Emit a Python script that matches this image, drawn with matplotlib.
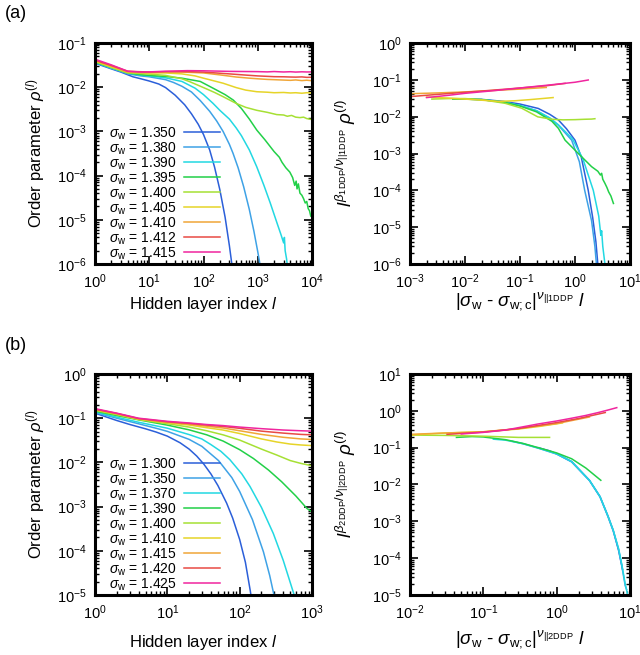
import numpy as np
import matplotlib
matplotlib.use('Agg')
import matplotlib.pyplot as plt
from matplotlib.ticker import LogLocator, FuncFormatter, NullFormatter

plt.rcParams['font.family'] = ['Liberation Sans', 'DejaVu Sans']
plt.rcParams['mathtext.fontset'] = 'custom'
plt.rcParams['mathtext.rm'] = 'Liberation Sans'
plt.rcParams['mathtext.it'] = 'Liberation Sans:italic'
plt.rcParams['mathtext.bf'] = 'Liberation Sans:bold'

colors = ['#2b5fd9', '#3ea2e6', '#22d8e2', '#22d048', '#a6e034',
          '#e6d428', '#f0a638', '#e84a44', '#f0259e']

# ---- (a) left: order parameter vs layer index
a_sigma = ['1.350', '1.380', '1.390', '1.395', '1.400', '1.405', '1.410', '1.412', '1.415']
a_l = [
    [1, 2, 3, 5, 7, 10, 15, 20, 30, 45, 60, 80, 100, 130, 160, 200, 250, 300, 350],
    [1, 2, 4, 7, 10, 20, 28, 40, 60, 87, 130, 175, 230, 300, 350, 435, 550, 700, 850, 1000, 1100],
    [1, 2, 4, 7, 10, 20, 40, 70, 100, 150, 200, 300, 400, 500, 700, 955, 1300, 1700, 2300, 2700,
     3000, 3100, 3200, 3400, 3600],
    [1, 2, 4, 7, 10, 20, 40, 87, 150, 250, 355, 500, 700, 960, 1350, 2000, 2500, 2800, 3300, 3900,
     4400, 4800, 5100, 5300, 5600, 6000, 6500, 7000, 7500, 8000, 8500, 9000, 9500, 10000],
    [1, 2, 4, 7, 10, 20, 40, 56, 100, 160, 230, 400, 600, 960, 1500, 2240, 3000, 3500, 4200, 5000,
     6000, 7000, 8000, 9000, 10000],
    [1, 2, 4, 10, 20, 40, 70, 100, 160, 230, 400, 600, 960, 1500, 2000, 3000, 4000, 5000, 6500,
     8000, 10000],
    [1, 2, 4, 10, 20, 40, 100, 200, 400, 700, 1000, 1500, 2000, 3000, 4000, 5000, 6500, 8000, 10000],
    [1, 2, 4, 10, 20, 50, 100, 300, 600, 1000, 1500, 2000, 3000, 4000, 5000, 6500, 8000, 10000],
    [1, 2, 4, 7, 10, 20, 50, 100, 300, 1000, 1500, 2000, 3000, 4000, 5000, 6500, 8000, 10000],
]
a_rho = [
    [0.035, 0.026, 0.022, 0.0172, 0.0155, 0.0138, 0.0118, 0.0098, 0.0066, 0.0040, 0.0025, 0.00145,
     0.00085, 0.00038, 0.000155, 4.8e-5, 1.15e-5, 2.6e-6, 6.3e-7],
    [0.036, 0.027, 0.020, 0.018, 0.0172, 0.0148, 0.0128, 0.0105, 0.0078, 0.0050, 0.00285, 0.00172,
     0.000995, 0.00051, 0.00032, 0.00015, 5.6e-5, 1.7e-5, 5.5e-6, 1.9e-6, 9.8e-7],
    [0.037, 0.027, 0.021, 0.0188, 0.018, 0.0163, 0.0135, 0.0095, 0.0068, 0.0043, 0.003, 0.0019,
     0.0012, 0.0008, 0.00038, 0.00016, 6e-5, 2.4e-5, 8e-6, 4.5e-6, 3e-6, 4e-6, 2e-6, 1.3e-6, 7e-7],
    [0.037, 0.028, 0.021, 0.0192, 0.0185, 0.0175, 0.016, 0.0135, 0.0095, 0.0068, 0.0051, 0.0033,
     0.0019, 0.00107, 0.00065, 0.00035, 0.00026, 0.0002, 0.00015, 0.00012, 9e-5, 6e-5, 7.5e-5,
     5e-5, 6.5e-5, 4e-5, 3.6e-5, 3e-5, 2.4e-5, 2.6e-5, 1.8e-5, 1.6e-5, 1.2e-5, 1.3e-5],
    [0.038, 0.028, 0.021, 0.0203, 0.0198, 0.0185, 0.0155, 0.0133, 0.0098, 0.0076, 0.0061, 0.0043,
     0.0035, 0.003, 0.0027, 0.0024, 0.00235, 0.0022, 0.0023, 0.0021, 0.00205, 0.0021, 0.00195,
     0.0019, 0.00185],
    [0.039, 0.029, 0.022, 0.021, 0.021, 0.020, 0.018, 0.016, 0.0138, 0.0123, 0.0098, 0.0086, 0.0079,
     0.0077, 0.0075, 0.0076, 0.0074, 0.0075, 0.0073, 0.0075, 0.0074],
    [0.040, 0.030, 0.022, 0.0215, 0.022, 0.022, 0.021, 0.019, 0.017, 0.016, 0.0155, 0.0150, 0.0148,
     0.0145, 0.0143, 0.0146, 0.0141, 0.0144, 0.0140],
    [0.041, 0.031, 0.023, 0.022, 0.0225, 0.0225, 0.022, 0.020, 0.0188, 0.018, 0.0176, 0.0173,
     0.0172, 0.0170, 0.0169, 0.0171, 0.0167, 0.0168],
    [0.043, 0.032, 0.023, 0.022, 0.0222, 0.023, 0.0237, 0.0235, 0.0228, 0.0225, 0.0222, 0.0226,
     0.0221, 0.0224, 0.022, 0.0223, 0.0221, 0.0222],
]

# ---- (a) right: scaling collapse
a_sx = [
    [0.007, 0.01, 0.02, 0.05, 0.1, 0.215, 0.35, 0.5, 0.7, 1.0, 1.3, 1.74, 2.1, 2.4, 2.6],
    [0.006, 0.01, 0.02, 0.05, 0.1, 0.2, 0.35, 0.5, 0.87, 1.2, 1.5, 2.0, 2.3, 2.45],
    [0.006, 0.01, 0.02, 0.05, 0.1, 0.2, 0.35, 0.5, 0.9, 1.4, 2.15, 2.7, 2.95, 3.05, 3.2, 3.5],
    [0.006, 0.01, 0.02, 0.05, 0.1, 0.2, 0.38, 0.5, 0.66, 1.15, 2.0, 2.6, 2.9, 3.05, 3.2, 3.5, 3.8,
     4.1, 4.5, 5.0],
    [0.0025, 0.005, 0.01, 0.02, 0.054, 0.107, 0.21, 0.38, 0.6, 1.0, 1.5, 2.0, 2.3],
    [0.002, 0.005, 0.01, 0.02, 0.04, 0.08, 0.15, 0.25, 0.4],
    [0.001, 0.003, 0.01, 0.03, 0.1, 0.3],
    [0.001, 0.003, 0.01, 0.03, 0.1, 0.3, 0.66],
    [0.002, 0.005, 0.01, 0.03, 0.1, 0.3, 1.0, 1.74],
]
a_sy = [
    [0.030, 0.030, 0.0295, 0.026, 0.022, 0.0167, 0.0115, 0.0081, 0.0047, 0.0023, 8e-4, 1e-4,
     1.8e-5, 4e-6, 1e-6],
    [0.030, 0.030, 0.029, 0.025, 0.020, 0.0145, 0.009, 0.0058, 0.0023, 6e-4, 1e-4, 1.5e-5, 3e-6,
     1e-6],
    [0.030, 0.030, 0.029, 0.025, 0.020, 0.0145, 0.0092, 0.006, 0.0025, 7e-4, 1e-4, 2e-5, 6e-6,
     8e-6, 3e-6, 1e-6],
    [0.030, 0.030, 0.029, 0.025, 0.0195, 0.0135, 0.0075, 0.0048, 0.0023, 1e-3, 4.4e-4, 3.3e-4,
     2.6e-4, 2.9e-4, 2e-4, 1.55e-4, 1.2e-4, 9e-5, 7e-5, 4.4e-5],
    [0.030, 0.031, 0.031, 0.029, 0.023, 0.017, 0.0099, 0.0085, 0.0082, 0.0083, 0.0085, 0.0086,
     0.0088],
    [0.034, 0.032, 0.030, 0.028, 0.026, 0.027, 0.029, 0.031, 0.033],
    [0.042, 0.044, 0.047, 0.051, 0.056, 0.062],
    [0.035, 0.040, 0.046, 0.052, 0.060, 0.069, 0.080],
    [0.033, 0.038, 0.043, 0.050, 0.060, 0.071, 0.086, 0.099],
]

# ---- (b) left
b_sigma = ['1.300', '1.350', '1.370', '1.390', '1.400', '1.410', '1.415', '1.420', '1.425']
b_l = [
    [1, 2, 3, 5, 7, 10, 15, 20, 25.5, 32, 40, 50, 66, 80, 100, 120, 140, 148],
    [1, 2, 4, 7, 10, 20, 30, 51, 78, 100, 150, 213, 260, 300, 310],
    [1, 2, 4, 10, 20, 30, 40, 55, 73, 107, 139, 200, 292, 400, 552, 600],
    [1, 2, 4, 10, 20, 35, 59, 100, 155, 250, 380, 600, 850, 1000],
    [1, 2, 4, 10, 20, 35, 59, 100, 200, 325, 500, 700, 1000],
    [1, 2, 4, 10, 20, 35, 59, 100, 200, 325, 500, 700, 1000],
    [1, 2, 4, 10, 20, 35, 59, 100, 200, 400, 700, 1000],
    [1, 2, 4, 10, 20, 35, 59, 100, 200, 400, 700, 1000],
    [1, 2, 4, 10, 20, 35, 59, 100, 200, 400, 700, 1000],
]
b_rho = [
    [0.130, 0.0887, 0.0724, 0.0575, 0.0486, 0.0393, 0.0278, 0.020, 0.0139, 0.0091, 0.0055, 0.0030,
     0.0012, 5.5e-4, 1.8e-4, 5.5e-5, 1.26e-5, 7e-6],
    [0.135, 0.100, 0.0748, 0.0592, 0.0504, 0.0332, 0.0231, 0.011, 0.00452, 0.0022, 5.1e-4, 9.5e-5,
     2.77e-5, 9.5e-6, 7.4e-6],
    [0.14, 0.1054, 0.0811, 0.0594, 0.0426, 0.0339, 0.0253, 0.0178, 0.0116, 0.0055, 0.00285,
     9.6e-4, 2.46e-4, 6.1e-5, 1.15e-5, 7.2e-6],
    [0.145, 0.1146, 0.0918, 0.0698, 0.0545, 0.0421, 0.0304, 0.0194, 0.01225, 0.00673, 0.00366,
     0.00173, 9.1e-4, 7.6e-4],
    [0.15, 0.12, 0.093, 0.075, 0.063, 0.052, 0.042, 0.032, 0.02, 0.0147, 0.011, 0.0095, 0.0084],
    [0.155, 0.125, 0.095, 0.079, 0.07, 0.061, 0.054, 0.045, 0.034, 0.029, 0.026, 0.0248, 0.024],
    [0.16, 0.127, 0.097, 0.081, 0.073, 0.066, 0.060, 0.052, 0.043, 0.037, 0.034, 0.033],
    [0.16, 0.128, 0.098, 0.083, 0.076, 0.070, 0.065, 0.059, 0.051, 0.046, 0.043, 0.042],
    [0.165, 0.13, 0.1, 0.085, 0.078, 0.072, 0.068, 0.063, 0.058, 0.054, 0.052, 0.051],
]

# ---- (b) right
b_sx = [
    [0.56, 0.8, 1.0, 1.6, 2.8, 3.9, 5.0, 5.9, 7.0, 7.9],
    [0.245, 0.35, 0.56, 1.0, 1.6, 2.8, 3.9, 5.0, 5.9, 7.0, 7.7, 8.6, 9.0],
    [0.137, 0.2, 0.35, 0.56, 1.0, 1.6, 2.8, 3.9, 5.0, 5.9, 7.0, 7.7, 8.6, 9.2],
    [0.043, 0.07, 0.1, 0.2, 0.35, 0.56, 1.0, 1.6, 2.5, 4.0],
    [0.01, 0.03, 0.1, 0.3, 0.8],
    [0.01, 0.03, 0.1, 0.3, 0.6, 1.2],
    [0.01, 0.03, 0.1, 0.3, 1.0, 2.8],
    [0.032, 0.1, 0.3, 1.0, 2.0, 4.6],
    [0.05, 0.1, 0.2, 0.56, 1.0, 1.6, 2.5, 3.7, 5.0, 6.6],
]
b_sy = [
    [0.10, 0.082, 0.068, 0.042, 0.013, 0.0047, 1.4e-3, 5.7e-4, 1.6e-4, 5e-5],
    [0.15, 0.127, 0.097, 0.067, 0.041, 0.0128, 0.0046, 1.35e-3, 5.5e-4, 1.7e-4, 6.5e-5, 1.8e-5,
     1.4e-5],
    [0.17, 0.16, 0.128, 0.098, 0.068, 0.042, 0.013, 0.0047, 1.4e-3, 5.8e-4, 1.8e-4, 7e-5, 2e-5,
     1.1e-5],
    [0.19, 0.2, 0.195, 0.165, 0.13, 0.1, 0.072, 0.05, 0.028, 0.013],
    [0.22, 0.215, 0.205, 0.19, 0.19],
    [0.22, 0.25, 0.27, 0.32, 0.38, 0.47],
    [0.23, 0.25, 0.27, 0.33, 0.45, 0.68],
    [0.23, 0.265, 0.33, 0.48, 0.62, 0.9],
    [0.235, 0.26, 0.30, 0.44, 0.53, 0.63, 0.75, 0.9, 1.05, 1.22],
]


def pow_fmt(v, pos):
    if v <= 0:
        return ''
    return r'$\mathregular{10^{%d}}$' % int(round(np.log10(v)))


def style(ax, xlim, ylim):
    ax.set_xscale('log')
    ax.set_yscale('log')
    ax.set_xlim(*xlim)
    ax.set_ylim(*ylim)
    for a in (ax.xaxis, ax.yaxis):
        a.set_major_locator(LogLocator(base=10, numticks=20))
        a.set_minor_locator(LogLocator(base=10, subs=np.arange(2, 10), numticks=20))
        a.set_major_formatter(FuncFormatter(pow_fmt))
        a.set_minor_formatter(NullFormatter())
    ax.tick_params(which='both', direction='in', top=True, right=True, labelsize=10.5)
    ax.tick_params(which='major', length=6, width=1.2, pad=6)
    ax.tick_params(which='minor', length=3, width=1.0)
    for s in ax.spines.values():
        s.set_linewidth(2.2)


fig = plt.figure(figsize=(6.4, 6.55), dpi=100)
W, H = 640.0, 655.0
ax1 = fig.add_axes([95 / W, 1 - 264 / H, 217 / W, 221 / H])
ax2 = fig.add_axes([410 / W, 1 - 264 / H, 220 / W, 221 / H])
ax3 = fig.add_axes([95 / W, 1 - 595 / H, 217 / W, 221 / H])
ax4 = fig.add_axes([410 / W, 1 - 595 / H, 220 / W, 221 / H])

for i in range(len(a_sigma)):
    ax1.plot(a_l[i], a_rho[i], color=colors[i], lw=1.1,
             label=r'$\sigma_{\mathrm{w}}$ = ' + a_sigma[i])
    ax2.plot(a_sx[i], a_sy[i], color=colors[i], lw=1.1)
for i in range(len(b_sigma)):
    ax3.plot(b_l[i], b_rho[i], color=colors[i], lw=1.1,
             label=r'$\sigma_{\mathrm{w}}$ = ' + b_sigma[i])
    ax4.plot(b_sx[i], b_sy[i], color=colors[i], lw=1.1)

style(ax1, (1, 1e4), (1e-6, 1e-1))
style(ax2, (1e-3, 1e1), (1e-6, 1e0))
style(ax3, (1, 1e3), (1e-5, 1e0))
style(ax4, (1e-2, 1e1), (1e-5, 1e1))

for ax in (ax1, ax3):
    ax.legend(loc='lower left', bbox_to_anchor=(0.015, -0.04), frameon=False, markerfirst=False,
              fontsize=10, handlelength=2.6, handletextpad=0.5, labelspacing=-0.1,
              borderpad=0.3)
    ax.set_xlabel(r'Hidden layer index $l$', fontsize=12)
    ax.set_ylabel(r'Order parameter $\rho^{(l)}$', fontsize=12)
    ax.yaxis.set_label_coords(-0.22, 0.5)

ax1.xaxis.set_label_coords(0.5, -0.14)
ax3.xaxis.set_label_coords(0.5, -0.17)

ax2.set_ylabel(r'$l^{\beta_{\mathrm{1DDP}}/\nu_{||\mathrm{1DDP}}}\ \rho^{(l)}$', fontsize=13.5)
ax2.set_xlabel(r'$|\sigma_{\mathrm{w}}$ - $\sigma_{\mathrm{w;c}}|^{\nu_{||\mathrm{1DDP}}}\ l$',
               fontsize=13.5)
ax4.set_ylabel(r'$l^{\beta_{\mathrm{2DDP}}/\nu_{||\mathrm{2DDP}}}\ \rho^{(l)}$', fontsize=13.5)
ax4.set_xlabel(r'$|\sigma_{\mathrm{w}}$ - $\sigma_{\mathrm{w;c}}|^{\nu_{||\mathrm{2DDP}}}\ l$',
               fontsize=13.5)
for ax in (ax2, ax4):
    ax.yaxis.set_label_coords(-0.235, 0.5)
ax2.xaxis.set_label_coords(0.5, -0.12)
ax4.xaxis.set_label_coords(0.5, -0.15)

fig.text(5 / W, 1 - 14 / H, '(a)', fontsize=13, va='center', ha='left')
fig.text(5 / W, 1 - 345 / H, '(b)', fontsize=13, va='center', ha='left')

fig.savefig('out.png', dpi=100)
